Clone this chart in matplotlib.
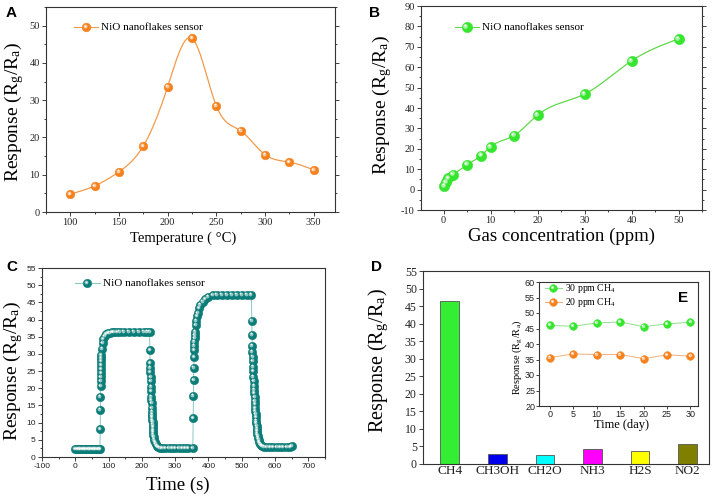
import numpy as np
import matplotlib
matplotlib.use("Agg")
import matplotlib.pyplot as plt
from matplotlib.transforms import offset_copy
from matplotlib.ticker import MultipleLocator

plt.rcParams['font.family'] = ['Liberation Serif', 'DejaVu Serif']
plt.rcParams['mathtext.fontset'] = 'stix'
plt.rcParams['axes.unicode_minus'] = False

W, H = 715, 499

# ---- data ----
temp_c = [100, 125, 150, 175, 200, 225, 250, 275, 300, 325, 350]
resp_temp = [4.8, 7.0, 10.8, 17.7, 33.6, 46.6, 28.5, 21.8, 15.4, 13.4, 11.3]

conc_ppm = [0.2, 0.5, 1, 2, 5, 8, 10, 15, 20, 30, 40, 50]
resp_conc = [1.8, 3.6, 5.6, 7.4, 12.2, 16.7, 21.0, 26.5, 36.5, 46.8, 63.1, 73.9]

time_s = [0, 5, 10, 15, 20, 25, 30, 35, 40, 45, 50, 55, 60, 65, 70, 74,
          75, 75.3, 75.6, 75.9, 76.2, 76.5, 76.8, 77.1, 77.4, 77.7, 78, 78.3,
          80, 82, 84, 88, 93, 98, 103, 110, 115, 125, 133, 145, 160, 175, 190, 205, 215, 223,
          224, 224.5, 225, 225.5, 226, 226.5, 227, 227.5, 228, 228.5, 229, 229.5,
          230, 230.5, 231, 231.5, 232, 232.5, 233, 233.5, 234, 234.5, 235.5, 237,
          239, 241, 244, 248, 253, 260, 270, 280, 290, 300, 310, 320, 330, 340, 353,
          354, 355, 355.5, 356, 356.5, 357, 357.5, 358, 358.5, 359, 360, 362, 364,
          366, 368, 372, 376, 383, 390, 400, 413, 425, 440, 455, 470, 485, 500, 515, 529,
          530, 530.7, 531.4, 532, 532.6, 533.2, 533.8, 534.4, 535, 535.6, 536.3, 537,
          537.7, 538.4, 539.1, 539.8, 540.5, 541.2, 541.9, 542.6, 543.3, 544, 544.8,
          545.6, 546.4, 547.2, 548, 549, 550.5, 552.5, 555, 558, 562, 567, 575, 585,
          595, 605, 615, 625, 635, 645, 650]
resp_time = [2.2, 2.2, 2.2, 2.2, 2.2, 2.2, 2.2, 2.2, 2.2, 2.2, 2.2, 2.2, 2.2, 2.2, 2.2, 2.2,
             8.1, 13.8, 17.6, 20.7, 22.0, 23.2, 24.4, 25.6, 26.7, 27.8, 28.8, 29.7,
             31.5, 33.1, 34.3, 35.2, 35.7, 36.0, 36.2, 36.3, 36.4, 36.4, 36.5, 36.5, 36.5, 36.5, 36.5, 36.5, 36.5, 36.5,
             31.0, 27.3, 26.0, 24.6, 23.3, 22.0, 20.5, 19.1, 17.6, 16.6, 15.7, 14.2,
             13.2, 12.3, 11.5, 10.8, 10.1, 9.4, 8.6, 7.9, 7.2, 6.5, 5.8, 5.0,
             4.3, 3.7, 3.2, 2.9, 2.7, 2.6, 2.6, 2.6, 2.6, 2.6, 2.6, 2.6, 2.6, 2.6, 2.6,
             11.3, 17.8, 22.3, 26.0, 29.0, 31.0, 32.4, 33.6, 34.6, 35.5, 36.5, 38.3, 39.7,
             40.9, 41.9, 43.4, 44.3, 45.2, 46.0, 46.7, 47.1, 47.2, 47.2, 47.2, 47.2, 47.2, 47.2, 47.2, 47.2,
             39.7, 35.6, 32.4, 30.7, 29.2, 27.8, 26.3, 24.9, 23.4, 22.0, 20.8, 19.6,
             18.5, 17.4, 16.3, 15.3, 14.3, 13.3, 12.4, 11.5, 10.6, 9.8, 9.0,
             8.2, 7.5, 6.8, 6.2, 5.6, 5.0, 4.4, 3.9, 3.5, 3.2, 3.0, 2.9, 2.9,
             2.9, 2.9, 2.9, 2.9, 2.9, 2.9, 3.1]

gases = ['CH4', 'CH3OH', 'CH2O', 'NH3', 'H2S', 'NO2']
resp_gas = [46.5, 2.8, 2.5, 4.3, 3.6, 5.6]
gas_colors = ['#33ee33', '#0000ee', '#00ffff', '#ff00ff', '#ffff00', '#808000']

days = [0, 5, 10, 15, 20, 25, 30]
resp_30ppm = [46.0, 45.7, 46.8, 47.1, 45.6, 46.5, 47.0]
resp_20ppm = [35.6, 36.8, 36.6, 36.6, 35.3, 36.5, 36.1]

ORANGE = '#f5821f'
GREEN = '#36e62e'
TEAL = '#0b7d78'


def spline(x, y, n=400):
    x = np.asarray(x, float)
    y = np.asarray(y, float)
    h = np.diff(x)
    nn = len(x)
    A = np.zeros((nn, nn))
    r = np.zeros(nn)
    A[0, 0] = A[-1, -1] = 1
    for i in range(1, nn - 1):
        A[i, i - 1] = h[i - 1]
        A[i, i] = 2 * (h[i - 1] + h[i])
        A[i, i + 1] = h[i]
        r[i] = 3 * ((y[i + 1] - y[i]) / h[i] - (y[i] - y[i - 1]) / h[i - 1])
    c = np.linalg.solve(A, r)
    b = (y[1:] - y[:-1]) / h - h * (2 * c[:-1] + c[1:]) / 3
    d = (c[1:] - c[:-1]) / (3 * h)
    xs = np.linspace(x[0], x[-1], n)
    idx = np.clip(np.searchsorted(x, xs) - 1, 0, nn - 2)
    dx = xs - x[idx]
    return xs, y[idx] + b[idx] * dx + c[idx] * dx ** 2 + d[idx] * dx ** 3


def balls(ax, x, y, color, ms, transform=None, z=3):
    tr = ax.transData if transform is None else transform
    ax.plot(x, y, 'o', ms=ms, mfc=color, mec=color, mew=0.4, transform=tr,
            zorder=z, clip_on=False)
    hl = offset_copy(tr, fig=ax.figure, x=-ms * 0.12, y=ms * 0.12, units='points')
    ax.plot(x, y, 'o', ms=ms * 0.45, mfc='white', mec='none', alpha=0.55,
            transform=hl, zorder=z + 1, clip_on=False)
    hl2 = offset_copy(tr, fig=ax.figure, x=-ms * 0.16, y=ms * 0.16, units='points')
    ax.plot(x, y, 'o', ms=ms * 0.2, mfc='white', mec='none',
            transform=hl2, zorder=z + 2, clip_on=False)


def legend_entry(ax, x0, x1, y, color, lc, ms, label, fs, gap=0.012):
    ax.plot([x0, x1], [y, y], color=lc, lw=0.8, transform=ax.transAxes)
    balls(ax, [(x0 + x1) / 2], [y], color, ms, transform=ax.transAxes)
    ax.text(x1 + gap, y, label, transform=ax.transAxes, fontsize=fs,
            va='center', ha='left')


def make_ax(l, t, r, b):
    return fig.add_axes([l / W, 1 - b / H, (r - l) / W, (b - t) / H])


def ftext(x, y, s, **kw):
    fig.text(x / W, 1 - y / H, s, ha='center', va='center', **kw)


def style(ax, fs, family=None, length=3, pad=1.5):
    for sp in ax.spines.values():
        sp.set_color('#333333')
        sp.set_linewidth(0.8)
    ax.tick_params(which='both', direction='out', labelsize=fs, width=0.6,
                   colors='#222222', pad=pad)
    ax.tick_params(which='major', length=length)
    ax.tick_params(which='minor', length=length * 0.6)
    if family:
        for lab in ax.get_xticklabels() + ax.get_yticklabels():
            lab.set_family(family)


fig = plt.figure(figsize=(W / 100, H / 100), dpi=100)

YL = 'Response (R$_\\mathregular{g}$/R$_\\mathregular{a}$)'

# ---- A ----
axA = make_ax(46, 7, 335, 212)
xs, ys = spline(temp_c, resp_temp)
axA.plot(xs, ys, color='#f39a4a', lw=0.9)
balls(axA, temp_c, resp_temp, ORANGE, 6.2)
axA.set_xlim(75, 372)
axA.set_ylim(0, 55)
axA.xaxis.set_major_locator(MultipleLocator(50))
axA.xaxis.set_minor_locator(MultipleLocator(25))
axA.yaxis.set_major_locator(MultipleLocator(10))
axA.yaxis.set_minor_locator(MultipleLocator(5))
style(axA, 7.5)
axA.tick_params(axis='y', which='both', right=True)
legend_entry(axA, 0.097, 0.18, 0.9, ORANGE, '#f39a4a', 6.2, 'NiO nanoflakes sensor', 8)
ftext(14, 112, YL, fontsize=14, rotation=90)
ftext(183, 238, 'Temperature ( \u00b0C)', fontsize=10.5)

# ---- B ----
axB = make_ax(421, 6, 702, 210)
xs, ys = spline(conc_ppm, resp_conc)
axB.plot(xs, ys, color='#5fd84a', lw=0.9)
balls(axB, conc_ppm, resp_conc, GREEN, 7.4)
axB.set_xlim(-4.8, 55)
axB.set_ylim(-10, 90)
axB.xaxis.set_major_locator(MultipleLocator(10))
axB.xaxis.set_minor_locator(MultipleLocator(5))
axB.yaxis.set_major_locator(MultipleLocator(10))
axB.yaxis.set_minor_locator(MultipleLocator(5))
style(axB, 7.5)
axB.tick_params(axis='y', which='both', right=True)
legend_entry(axB, 0.12, 0.205, 0.897, GREEN, '#5fd84a', 7.4, 'NiO nanoflakes sensor', 8)
ftext(382, 105, YL, fontsize=14, rotation=90)
ftext(561, 236, 'Gas concentration (ppm)', fontsize=13.5)

# ---- C ----
axC = make_ax(42, 268, 325, 457)
axC.plot(time_s, resp_time, color='#86c9c5', lw=0.7)
balls(axC, time_s, resp_time, TEAL, 6.0)
axC.set_xlim(-100, 750)
axC.set_ylim(0, 55)
axC.xaxis.set_major_locator(MultipleLocator(100))
axC.xaxis.set_minor_locator(MultipleLocator(50))
axC.yaxis.set_major_locator(MultipleLocator(5))
axC.yaxis.set_minor_locator(MultipleLocator(2.5))
style(axC, 6, family='Liberation Sans')
legend_entry(axC, 0.115, 0.205, 0.919, TEAL, '#86c9c5', 6.0, 'NiO nanoflakes sensor', 8)
ftext(13, 371, YL, fontsize=14, rotation=90)
ftext(178, 485, 'Time (s)', fontsize=13.5)

# ---- D ----
axD = make_ax(423, 271, 709, 464)
pos = np.arange(1, len(gases) + 1)
axD.bar(pos, resp_gas, width=0.39, color=gas_colors, edgecolor='#555555', linewidth=0.6)
axD.set_xlim(0.44, 6.45)
axD.set_ylim(0, 55)
axD.set_xticks(pos)
axD.set_xticklabels(gases)
axD.yaxis.set_major_locator(MultipleLocator(5))
style(axD, 8.5)
axD.tick_params(axis='x', length=0, labelsize=9.5, pad=1)
ftext(379, 361, YL, fontsize=14.5, rotation=90)

# ---- E (inset) ----
axE = make_ax(539, 282, 698, 406)
axE.plot(days, resp_30ppm, color='#8fe28a', lw=0.7)
axE.plot(days, resp_20ppm, color='#f5b07a', lw=0.7)
balls(axE, days, resp_30ppm, GREEN, 5.5)
balls(axE, days, resp_20ppm, ORANGE, 5.5)
axE.set_xlim(-2.3, 31.6)
axE.set_ylim(20, 60)
axE.xaxis.set_major_locator(MultipleLocator(5))
axE.yaxis.set_major_locator(MultipleLocator(5))
style(axE, 6.5, family='Liberation Sans', length=2, pad=0.8)
legend_entry(axE, 0.038, 0.143, 0.949, GREEN, '#8fe28a', 5.5, '30 ppm CH$_\\mathregular{4}$', 7, gap=0.021)
legend_entry(axE, 0.038, 0.143, 0.836, ORANGE, '#f5b07a', 5.5, '20 ppm CH$_\\mathregular{4}$', 7, gap=0.021)
ftext(517, 357, YL, fontsize=7.5, rotation=90)
ftext(621, 425, 'Time (day)', fontsize=9)

# panel letters
for lx, ly, s in [(11, 13, 'A'), (375, 13, 'B'), (12, 267, 'C'), (376, 267, 'D'), (683, 298, 'E')]:
    ftext(lx, ly, s, fontsize=11, weight='bold', family='Liberation Sans')

fig.savefig('out.png', dpi=100)
